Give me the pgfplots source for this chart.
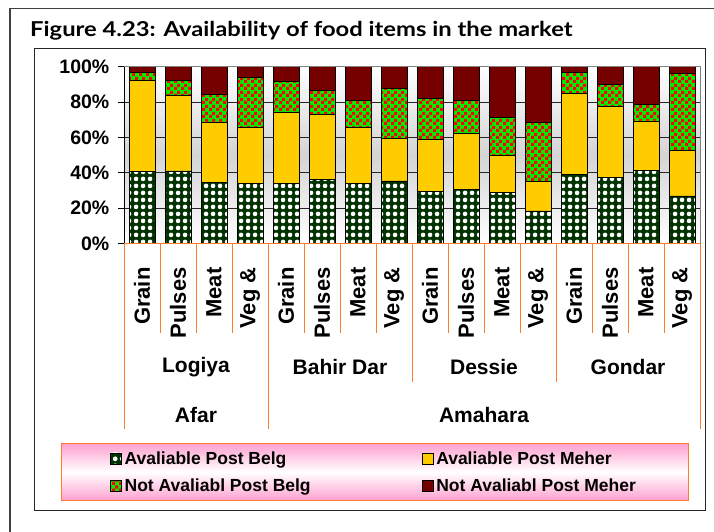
\documentclass[border=0pt]{standalone}
\usepackage{fontspec}
\setmainfont{Liberation Sans}
\newfontfamily\titlefont{Lato}
\usepackage{pgfplots}
\usepackage{pgfplotstable}
\pgfplotsset{compat=1.18}
\usetikzlibrary{patterns}
\definecolor{dkgreen}{RGB}{0,51,0}
\definecolor{ckgreen}{RGB}{0,238,0}
\definecolor{ckred}{RGB}{255,0,0}
\definecolor{gold}{RGB}{255,204,0}
\definecolor{maroon}{RGB}{118,0,0}
\definecolor{orln}{RGB}{255,125,40}
\definecolor{pinkbg}{RGB}{255,160,208}
\pgfdeclarepatternformonly{wdots}{\pgfqpoint{0pt}{0pt}}{\pgfqpoint{7pt}{7pt}}{\pgfqpoint{7pt}{7pt}}{%
  \pgfpathcircle{\pgfqpoint{3.5pt}{3.5pt}}{2.6pt}\pgfusepath{fill}}
\pgfdeclarepatternformonly{checker}{\pgfqpoint{0pt}{0pt}}{\pgfqpoint{6.6pt}{6.6pt}}{\pgfqpoint{6.6pt}{6.6pt}}{%
  \pgfpathrectangle{\pgfqpoint{0pt}{0pt}}{\pgfqpoint{3.3pt}{3.3pt}}%
  \pgfpathrectangle{\pgfqpoint{3.3pt}{3.3pt}}{\pgfqpoint{3.3pt}{3.3pt}}\pgfusepath{fill}}

\pgfplotstableread{
x A B C D
0 40.5 51.8 4.3 3.4
1 41.0 42.6 8.5 7.9
2 34.5 34.2 15.4 15.9
3 34.1 31.4 28.3 6.2
4 33.7 40.3 17.7 8.3
5 36.3 36.7 13.4 13.6
6 34.0 31.5 15.5 19.0
7 35.3 24.3 28.2 12.2
8 29.6 29.1 23.2 18.1
9 30.7 31.6 18.7 19.0
10 28.9 20.7 21.5 28.9
11 18.3 16.8 33.4 31.5
12 39.2 45.7 11.7 3.4
13 37.2 40.2 12.8 9.8
14 41.1 28.2 9.2 21.5
15 26.8 25.9 43.6 3.7
}\datatab

\begin{document}
\begin{tikzpicture}
\path[use as bounding box] (0pt,0pt) rectangle (714pt,531pt);
\draw[black!75, line width=1.6pt] (10pt,-5pt) -- (10pt,522.5pt) -- (720pt,522.5pt);
\draw[black!85, line width=1pt] (34pt,21pt) rectangle (705pt,482pt);
\node[anchor=west, inner sep=0pt, font=\titlefont\bfseries\fontsize{20.5}{22}\selectfont] at (30pt,500.5pt) {\scalebox{1.16}[1]{Figure 4.23: Availability of food items in the market}};

\begin{axis}[
  at={(124pt,287.7pt)}, anchor=south west,
  scale only axis, width=576pt, height=176.6pt,
  ybar stacked, bar width=25.7pt,
  xmin=-0.5, xmax=15.5, ymin=0, ymax=100,
  xtick={0,...,15},
  xticklabels={Grain,Pulses,Meat,{Veg \&},Grain,Pulses,Meat,{Veg \&},Grain,Pulses,Meat,{Veg \&},Grain,Pulses,Meat,{Veg \&}},
  ytick={0,20,...,100},
  yticklabel={\pgfmathprintnumber{\tick}\%},
  /pgf/number format/assume math mode=true,
  yticklabel style={font=\bfseries\fontsize{19.5}{19.5}\selectfont, inner sep=0pt, xshift=-8.5pt},
  xticklabel style={yshift=-18pt, rotate=90, anchor=east, inner sep=0pt, font=\bfseries\fontsize{22}{22}\selectfont},
  ymajorgrids, grid style={black!85, line width=0.6pt},
  tick align=outside, major tick length=6pt,
  ytick pos=left,
  ytick style={black, line width=0.8pt},
  xtick style={draw=none},
  axis line style={draw=none},
  axis background/.style={shade, top color=white, bottom color=white, middle color=black!17},
  clip=false,
  legend columns=2,
  legend cell align=left,
  legend style={at={(0.4349,-1.295)}, anchor=center, draw=orln, line width=0.8pt,
    top color=pinkbg, bottom color=pinkbg, middle color=white,
    inner xsep=49pt, inner ysep=8pt, row sep=13pt,
    font=\bfseries\fontsize{17.5}{17.5}\selectfont,
    nodes={inner xsep=3pt, inner ysep=0pt},
    /tikz/every even column/.append style={column sep=108pt}},
  lg/.style={legend image code/.code={\draw[##1] (0pt,-5.5pt) rectangle (11pt,5.5pt);}},
]
\addplot[lg, fill=dkgreen, draw=black, line width=0.6pt, postaction={pattern=wdots, pattern color=white}] table[x=x,y=A]{\datatab};
\addplot[lg, fill=gold, draw=black, line width=0.6pt] table[x=x,y=B]{\datatab};
\addplot[lg, fill=ckgreen, draw=black, line width=0.6pt, postaction={pattern=checker, pattern color=ckred}] table[x=x,y=C]{\datatab};
\addplot[lg, fill=maroon, draw=black, line width=0.6pt] table[x=x,y=D]{\datatab};
\legend{Avaliable Post Belg, Avaliable Post Meher, Not Avaliabl Post Belg, Not Avaliabl Post Meher}
\end{axis}

% plot frame
\draw[black!50, line width=1pt] (124pt,464.3pt) -- (700pt,464.3pt) -- (700pt,287.7pt);
\draw[black, line width=1pt] (124pt,287.7pt) -- (124pt,464.3pt);
% category axis structure
\draw[orln, line width=1pt] (124pt,287.7pt) -- (700pt,287.7pt);
\foreach \k in {1,2,3,5,6,7,9,10,11,13,14,15}
  \draw[orln, line width=0.8pt] (124pt+\k*36pt,287.7pt) -- (124pt+\k*36pt,198pt);
\foreach \k in {8,12}
  \draw[orln, line width=0.8pt] (124pt+\k*36pt,287.7pt) -- (124pt+\k*36pt,149.3pt);
\foreach \k in {0,4,16}
  \draw[orln, line width=0.8pt] (124pt+\k*36pt,287.7pt) -- (124pt+\k*36pt,102pt);
\begin{scope}[every node/.style={font=\bfseries\fontsize{21}{21}\selectfont, inner sep=0pt}]
\node at (196pt,164pt) {Logiya};
\node at (340pt,164pt) {Bahir Dar};
\node at (484pt,164pt) {Dessie};
\node at (628pt,164pt) {Gondar};
\node at (196pt,116pt) {Afar};
\node at (484pt,116pt) {Amahara};
\end{scope}
\end{tikzpicture}
\end{document}
